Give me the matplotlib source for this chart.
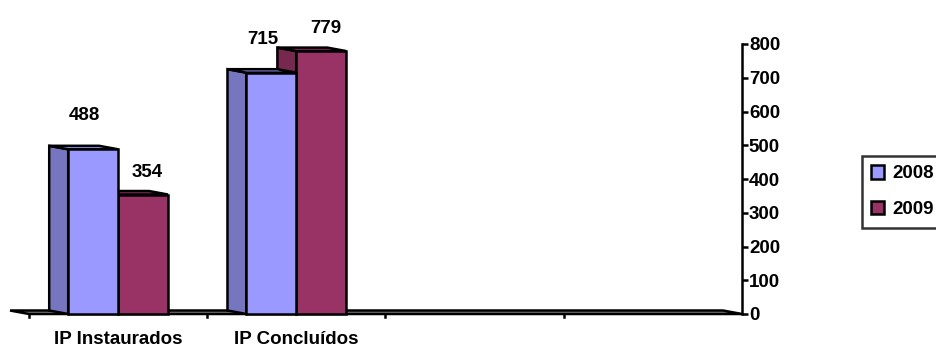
import numpy as np
import matplotlib
matplotlib.use("Agg")
import matplotlib.pyplot as plt
from matplotlib.patches import Polygon, Rectangle, Patch

plt.rcParams['font.family'] = ['Liberation Sans', 'DejaVu Sans']
plt.rcParams['font.weight'] = 'bold'

# data
categories = ["IP Instaurados", "IP Concluídos", "", ""]
years = ["2008", "2009"]
values_2008 = [488, 715, 0, 0]
values_2009 = [354, 779, 0, 0]
y_ticks = [0, 100, 200, 300, 400, 500, 600, 700, 800]

front_colors = ["#9999FF", "#993366"]
side_colors = ["#7676C0", "#76284F"]
top_colors = ["#8A8AE6", "#86305C"]

fig = plt.figure(figsize=(9.37, 3.5), dpi=100)
ax = fig.add_axes([29 / 937, 36 / 350, 713 / 937, 270 / 350])
ax.set_xlim(0, len(categories))
ax.set_ylim(0, 800)

# depth of the fake 3d projection (goes left and up)
px_y = 270 / 800
dx = -19 / 178.25
dy = 3.5 / px_y
bar_w = 0.28
gap = 0.22
lw = 1.8

# floor
floor = Polygon([(0, 0), (len(categories), 0), (len(categories) + dx, dy), (dx, dy)],
                closed=True, facecolor="#808080", edgecolor="black", lw=lw,
                clip_on=False, zorder=1)
ax.add_patch(floor)


def draw_bar(x0, v, k, z):
    x1 = x0 + bar_w
    side = Polygon([(x0, 0), (x0, v), (x0 + dx, v + dy), (x0 + dx, dy)], closed=True,
                   facecolor=side_colors[k], edgecolor="black", lw=lw, clip_on=False, zorder=z)
    top = Polygon([(x0, v), (x1, v), (x1 + dx, v + dy), (x0 + dx, v + dy)], closed=True,
                  facecolor=top_colors[k], edgecolor="black", lw=lw, clip_on=False, zorder=z)
    front = Rectangle((x0, 0), bar_w, v, facecolor=front_colors[k], edgecolor="black",
                      lw=lw, clip_on=False, zorder=z)
    ax.add_patch(side)
    ax.add_patch(top)
    ax.add_patch(front)


series = [values_2008, values_2009]
label_offsets = [(-6, 24), (3, 16)]
z = 2
for i in range(len(categories)):
    # right bar first so the left bar covers its side face
    for k in [1, 0]:
        v = series[k][i]
        if v == 0:
            continue
        x0 = i + gap + k * bar_w
        draw_bar(x0, v, k, z)
        z += 1
        ax.annotate(str(v), (x0 + bar_w / 2, v), xytext=label_offsets[k],
                    textcoords="offset points", ha="center", va="center",
                    fontsize=13.5, fontweight="bold", annotation_clip=False)

# axes styling
for s in ["top", "left", "bottom"]:
    ax.spines[s].set_visible(False)
ax.spines["right"].set_linewidth(lw)
ax.yaxis.tick_right()
ax.set_yticks(y_ticks)
ax.tick_params(axis="y", direction="out", length=4, width=lw, pad=1, labelsize=13.5)
ax.set_xticks([])
for i, c in enumerate(categories):
    ax.text(i + 0.5, -26 / px_y, c, ha="center", va="center", fontsize=13.5,
            fontweight="bold", clip_on=False)
# small ticks hanging below the floor between categories
for i in range(len(categories)):
    ax.plot([i, i], [0, -10], color="black", lw=lw, clip_on=False, zorder=1)

handles = [Patch(facecolor=front_colors[k], edgecolor="black", lw=lw) for k in range(2)]
leg = fig.legend(handles, years, loc="upper left", bbox_to_anchor=(862 / 937, 194 / 350),
                 fontsize=13.5, frameon=True, fancybox=False, handlelength=0.7,
                 handleheight=0.7, handletextpad=0.4, labelspacing=1.0,
                 borderpad=0.5, borderaxespad=0)
leg.get_frame().set_edgecolor("black")
leg.get_frame().set_linewidth(lw)

fig.savefig("out.png", dpi=100)
